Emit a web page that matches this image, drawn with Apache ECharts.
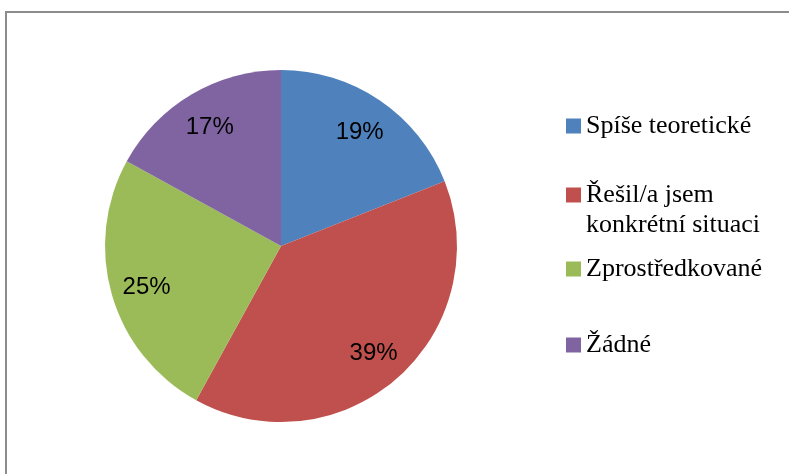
<!DOCTYPE html>
<html>
<head>
<meta charset="utf-8">
<script src="https://cdn.jsdelivr.net/npm/echarts@6/dist/echarts.min.js"></script>
<style>
  html, body { margin: 0; padding: 0; background: #fff; }
  #main { width: 789px; height: 474px; }
</style>
</head>
<body>
<div id="main"></div>
<script>
var categories = ['Spíše teoretické', 'Řešil/a jsem\nkonkrétní situaci', 'Zprostředkované', 'Žádné'];
var values = [19, 39, 25, 17];
var colors = ['#4F81BD', '#C0504D', '#9BBB59', '#8064A2'];

var chart = echarts.init(document.getElementById('main'));

var pieData = categories.map(function (name, i) {
    return { name: name, value: values[i], itemStyle: { color: colors[i] } };
});

// one legend per entry so each row can sit where it sits in the picture
var legendTops = [106, 145, 249, 325];
var legends = categories.map(function (name, i) {
    var multi = name.indexOf('\n') >= 0;
    return {
        data: [name],
        left: 561,
        top: legendTops[i],
        orient: 'vertical',
        icon: 'rect',
        itemWidth: 15,
        itemHeight: 15,
        itemGap: 4,
        selectedMode: false,
        // empty first line keeps the marker level with the first text line
        formatter: function (n) { return multi ? '\n' + n : n; },
        textStyle: {
            fontFamily: 'Liberation Serif',
            fontSize: 26,
            color: '#000',
            lineHeight: 30
        }
    };
});

var option = {
    backgroundColor: '#fff',
    animation: false,
    legend: legends,
    graphic: [{
        type: 'rect',
        shape: { x: 6, y: 12, width: 800, height: 480 },
        style: { fill: 'none', stroke: '#8c8c8c', lineWidth: 2 },
        silent: true
    }],
    series: [
        {
            type: 'pie',
            center: [281, 246],
            radius: [0, 176],
            startAngle: 90,
            clockwise: true,
            label: { show: false },
            labelLine: { show: false },
            emphasis: { disabled: true },
            data: pieData
        },
        {
            // transparent ring carrying the percentage labels
            type: 'pie',
            center: [281, 248],
            radius: [98, 176],
            startAngle: 90,
            clockwise: true,
            silent: true,
            legendHoverLink: false,
            itemStyle: { color: 'rgba(0,0,0,0)' },
            label: {
                show: true,
                position: 'inside',
                formatter: '{c}%',
                fontFamily: 'Liberation Sans',
                fontSize: 24,
                color: '#000'
            },
            labelLine: { show: false },
            data: values.map(function (v, i) { return { name: 'lbl' + i, value: v }; })
        }
    ]
};
chart.setOption(option);
</script>
</body>
</html>
